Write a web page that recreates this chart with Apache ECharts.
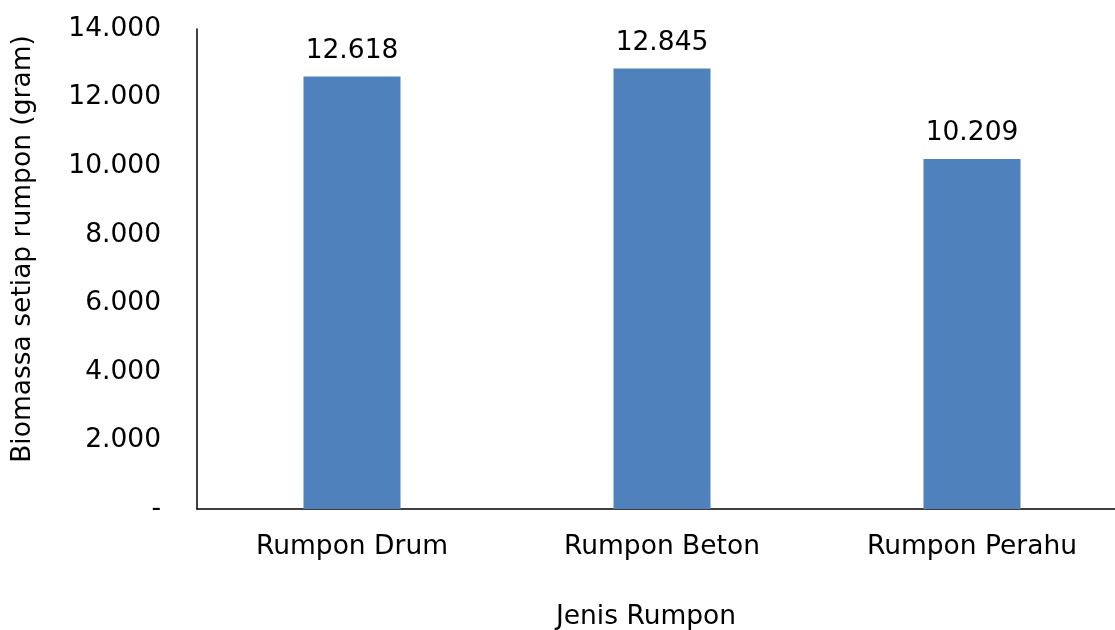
<!DOCTYPE html>
<html>
<head>
<meta charset="utf-8">
<script src="https://cdn.jsdelivr.net/npm/echarts@6/dist/echarts.min.js"></script>
<style>html,body{margin:0;padding:0;background:#fff;overflow:hidden;width:1115px;height:630px}#c{width:1127px;height:630px}</style>
</head>
<body>
<div id="c"></div>
<script>
const categories = ["Rumpon Drum", "Rumpon Beton", "Rumpon Perahu"];
const biomass = [12618, 12845, 10209];
const yTicks = [0, 2000, 4000, 6000, 8000, 10000, 12000, 14000];
const xTitle = "Jenis Rumpon";
const yTitle = "Biomassa setiap rumpon (gram)";

const FONT = "DejaVu Sans";
const FS = 26.5;
function fmt(v) {
  if (v === 0) return "-";
  return String(v).replace(/\B(?=(\d{3})+(?!\d))/g, ".");
}
const chart = echarts.init(document.getElementById('c'), null, {renderer: 'canvas'});
chart.setOption({
  animation: false,
  textStyle: {fontFamily: FONT},
  grid: {left: 197, top: 29, right: 0, bottom: 121, containLabel: false},
  xAxis: {
    type: 'category',
    data: categories,
    axisLine: {lineStyle: {color: '#000', width: 1.5}},
    axisTick: {show: false},
    axisLabel: {color: '#000', fontSize: FS, fontFamily: FONT, margin: 25}
  },
  yAxis: {
    type: 'value',
    min: yTicks[0],
    max: yTicks[yTicks.length - 1],
    interval: yTicks[1] - yTicks[0],
    axisLine: {show: true, lineStyle: {color: '#000', width: 1.5}},
    axisTick: {show: false},
    splitLine: {show: false},
    axisLabel: {color: '#000', fontSize: FS, fontFamily: FONT, margin: 36, formatter: fmt}
  },
  series: [{
    type: 'bar',
    data: biomass,
    barWidth: 97,
    itemStyle: {color: '#4F81BD'},
    label: {
      show: true, position: 'top', distance: 12,
      color: '#000', fontSize: FS, fontFamily: FONT,
      formatter: p => fmt(p.value)
    }
  }],
  graphic: [
    {type: 'text', x: 646, y: 617, style: {text: xTitle, font: FS + 'px "DejaVu Sans"', fill: '#000', align: 'center', verticalAlign: 'middle'}},
    {type: 'text', x: 23, y: 249, rotation: Math.PI / 2, style: {text: yTitle, font: FS + 'px "DejaVu Sans"', fill: '#000', align: 'center', verticalAlign: 'middle'}}
  ]
});
</script>
</body>
</html>
